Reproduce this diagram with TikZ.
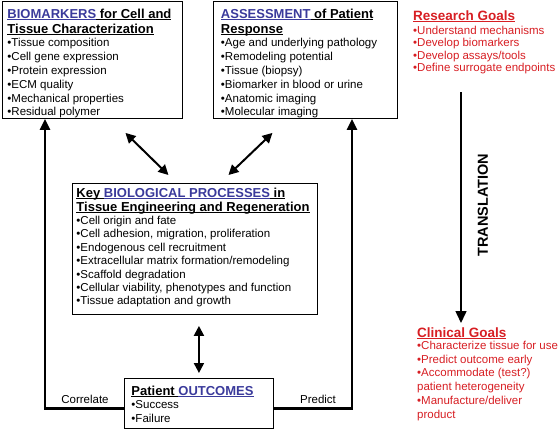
\documentclass[tikz,border=0pt]{standalone}
\usepackage{fontspec}
\setmainfont{Liberation Sans}
\usetikzlibrary{arrows.meta}
\definecolor{myblue}{RGB}{58,58,155}
\definecolor{myred}{RGB}{215,30,35}
\newcommand{\ulx}[1]{\leavevmode\setbox0\hbox{#1}\rlap{\rule[-2.3pt]{\wd0}{1.1pt}}\box0}
\newcommand{\tfont}{\fontsize{13}{15}\selectfont\bfseries}
\newcommand{\ifont}{\fontsize{11.5}{13.8}\selectfont}
\newcommand{\tfontb}{\fontsize{13}{14}\selectfont\bfseries}
\newcommand{\ifontb}{\fontsize{11.5}{13.4}\selectfont}
\newcommand{\gfont}{\fontsize{13.5}{15}\selectfont\bfseries}
\newcommand{\rfont}{\fontsize{11.5}{12.4}\selectfont}
\begin{document}
\begin{tikzpicture}[x=1pt,y=-1pt,
  box/.style={draw, line width=0.9pt, anchor=north west, inner ysep=0pt},
  conn/.style={line width=2.4pt, -{Triangle[length=11pt,width=10pt]}},
  dbl/.style={line width=2pt, {Triangle[length=10pt,width=10pt]}-{Triangle[length=10pt,width=10pt]}},
  trans/.style={line width=1.5pt, -{Triangle[length=12pt,width=11pt]}},
  lab/.style={font=\fontsize{11.5}{13}\selectfont, inner sep=0pt}]
\useasboundingbox (0,0) rectangle (559,429);

\node[box, inner xsep=5pt] (b1) at (2,1) {\parbox[t][117pt][t]{170pt}{\raggedright
{\tfont\rule{0pt}{16.7pt}\textcolor{myblue}{\ulx{BIOMARKERS}}\ulx{ for Cell and}\par
\ulx{Tissue Characterization}\par}
{\ifont •Tissue composition\par
•Cell gene expression\par
•Protein expression\par
•ECM quality\par
•Mechanical properties\par
•Residual polymer\par}}};

\node[box, inner xsep=7.5pt] (b2) at (213,1) {\parbox[t][117pt][t]{169pt}{\raggedright
{\tfont\rule{0pt}{16.7pt}\textcolor{myblue}{\ulx{ASSESSMENT}}\ulx{ of Patient}\par
\ulx{Response}\par}
{\ifont •Age and underlying pathology\par
•Remodeling potential\par
•Tissue (biopsy)\par
•Biomarker in blood or urine\par
•Anatomic imaging\par
•Molecular imaging\par}}};

\node[box, inner xsep=4pt] (b3) at (72,183) {\parbox[t][131pt][t]{237pt}{\raggedright
{\tfontb\rule{0pt}{13.7pt}\ulx{Key }\textcolor{myblue}{\ulx{BIOLOGICAL PROCESSES}}\ulx{ in}\par
\ulx{Tissue Engineering and Regeneration}\par}
{\ifontb •Cell origin and fate\par
•Cell adhesion, migration, proliferation\par
•Endogenous cell recruitment\par
•Extracellular matrix formation/remodeling\par
•Scaffold degradation\par
•Cellular viability, phenotypes and function\par
•Tissue adaptation and growth\par}}};

\node[box, inner xsep=7pt] (b4) at (124,378) {\parbox[t][50pt][t]{135pt}{\raggedright
{\tfont\rule{0pt}{16.7pt}\ulx{Patient }\textcolor{myblue}{\ulx{OUTCOMES}}\par}
{\ifont •Success\par
•Failure\par}}};

\node[anchor=north west, inner sep=0pt] (rg) at (413,0) {\parbox[t]{150pt}{\raggedright\color{myred}
{\gfont\rule{0pt}{19.8pt}\ulx{Research Goals}\par}
{\fontsize{11.5}{14.3}\selectfont •Understand mechanisms\par}
{\rfont •Develop biomarkers\par
•Develop assays/tools\par
•Define surrogate endpoints\par}}};

\node[anchor=north west, inner sep=0pt] (cg) at (417,320) {\parbox[t]{145pt}{\raggedright\color{myred}
{\gfont\rule{0pt}{16.8pt}\ulx{Clinical Goals}\par}
{\fontsize{11.5}{12.3}\selectfont •Characterize tissue for use\par}
{\ifont •Predict outcome early\par
•Accommodate (test?)\par
patient heterogeneity\par
•Manufacture/deliver\par
product\par}}};

\draw[conn] ([yshift=-5pt]b4.west) -| ([xshift=43pt]b1.south west);
\draw[conn] ([yshift=-5pt]b4.east) -| ([xshift=139pt]b2.south west);
\draw[dbl] ([xshift=33pt,yshift=-14pt]b1.south) -- ([xshift=-26.5pt,yshift=8pt]b3.north);
\draw[dbl] ([xshift=-33pt,yshift=-14pt]b2.south) -- ([xshift=33.5pt,yshift=8pt]b3.north);
\draw[dbl, shorten <=11pt, shorten >=5pt] (b3.south -| b4.north) -- (b4.north);

\coordinate (t1) at (461,92);
\coordinate (t2) at (461,323);
\draw[trans] (t1) -- (t2);
\node[rotate=90, inner sep=0pt, font=\fontsize{14.5}{16}\selectfont\bfseries] (tl) at (483,205) {TRANSLATION};

\node[lab] (corr) at (85,399) {Correlate};
\node[lab] (pred) at (318,399) {Predict};
\end{tikzpicture}
\end{document}
